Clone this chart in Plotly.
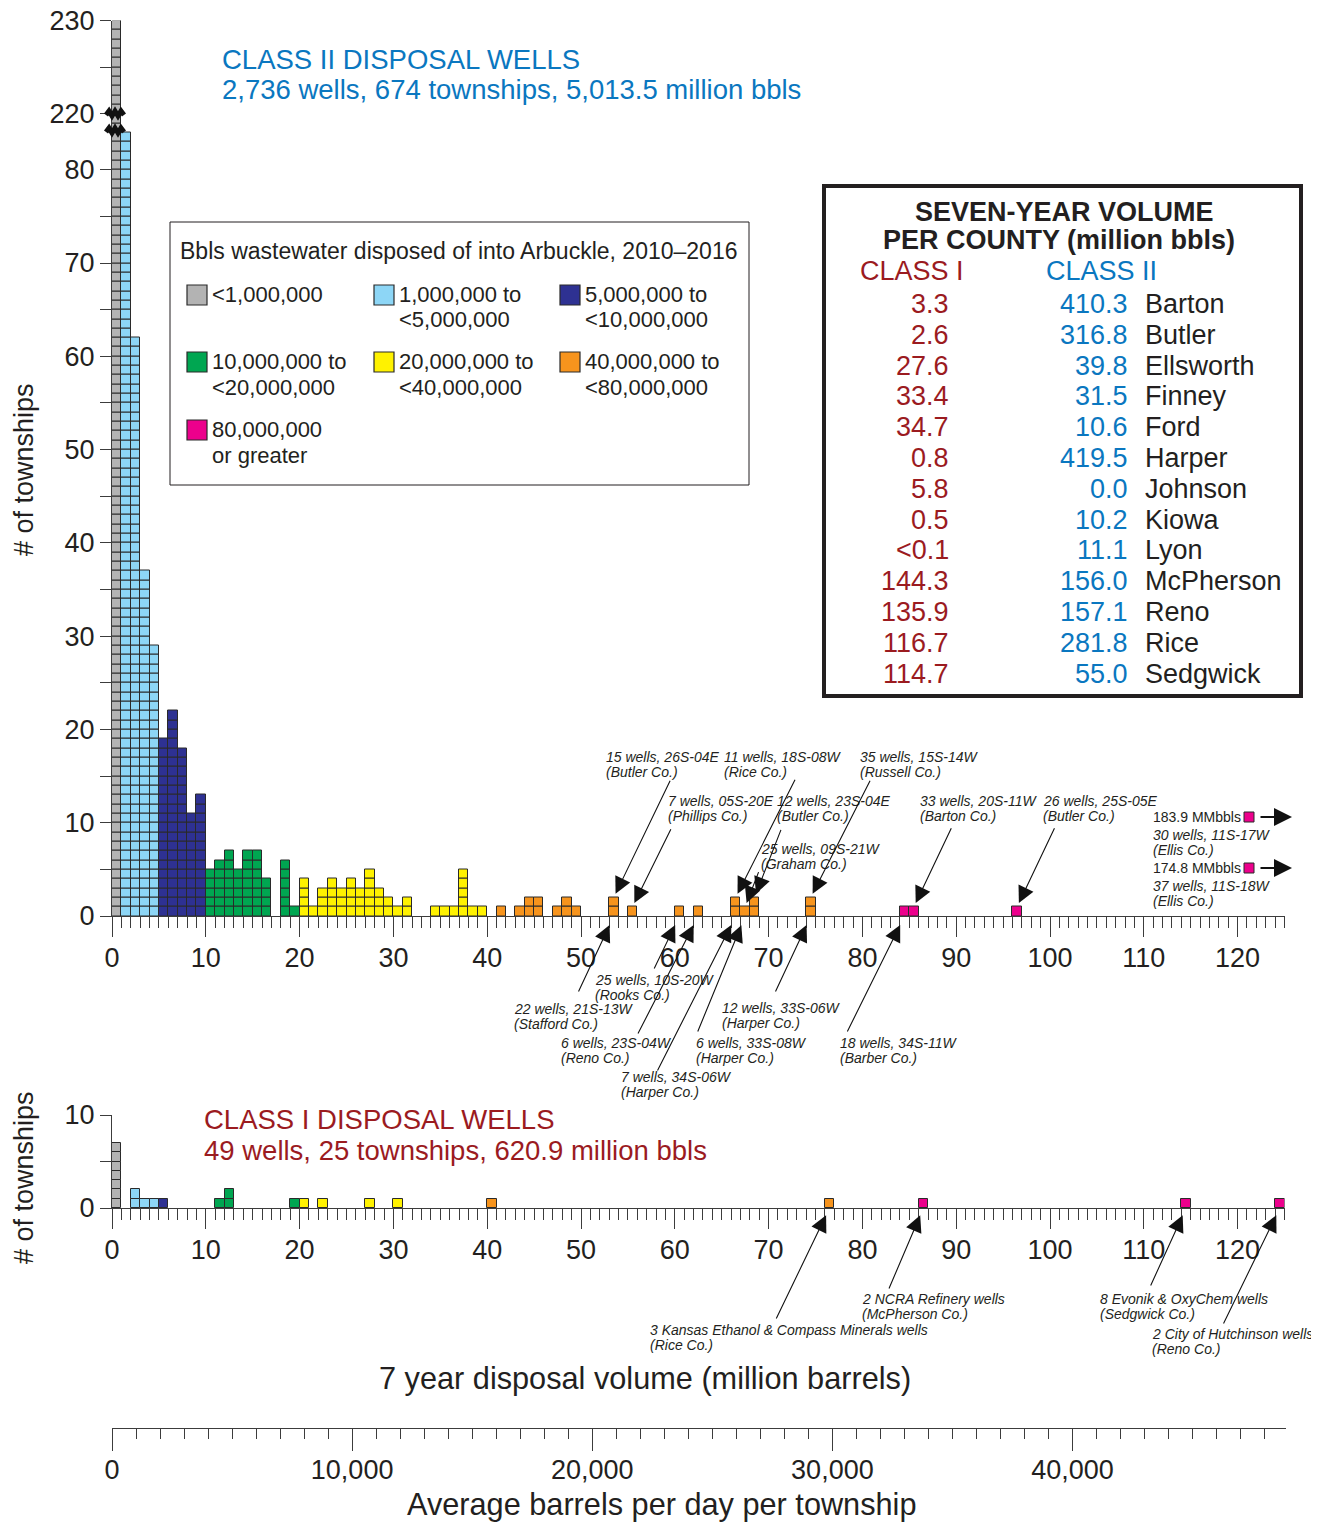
import plotly.graph_objects as go

# page size and page offset (browser default body margin)
PAGE_W, PAGE_H = 1319, 1523
OFF = 8
W, H = PAGE_W - OFF, PAGE_H - OFF

# ---------------- data ----------------
# Class II: township counts per 1-million-bbl bin (bin lower edge, million bbls)
class2_bins = [0, 1, 2, 3, 4, 5, 6, 7, 8, 9, 10, 11, 12, 13, 14, 15, 16, 18, 19,
               20, 21, 22, 23, 24, 25, 26, 27, 28, 29, 30, 31, 34, 35, 36, 37, 38, 39,
               41, 43, 44, 45, 47, 48, 49, 53, 55, 60, 62, 66, 67, 68, 74, 84, 85, 96]
class2_counts = [230, 84, 62, 37, 29, 19, 22, 18, 11, 13, 5, 6, 7, 5, 7, 7, 4, 6, 1,
                 4, 1, 3, 4, 3, 4, 3, 5, 3, 2, 1, 2, 1, 1, 1, 5, 1, 1,
                 1, 1, 2, 2, 1, 2, 1, 2, 1, 1, 1, 2, 1, 2, 2, 1, 1, 1]

# Class I
class1_bins = [0, 2, 3, 4, 5, 11, 12, 19, 20, 22, 27, 30, 40, 76, 86, 114, 124]
class1_counts = [7, 2, 1, 1, 1, 1, 2, 1, 1, 1, 1, 1, 1, 1, 1, 1, 1]

# volume categories (million bbls lower edges)
cat_lower = [0, 1, 5, 10, 20, 40, 80]
cat_colors = ['#b3b3b3', '#8dd6f6', '#2e3192', '#00a651', '#fff200', '#f7941d', '#ec008c']
cat_line1 = ['<1,000,000', '1,000,000 to', '5,000,000 to', '10,000,000 to',
             '20,000,000 to', '40,000,000 to', '80,000,000']
cat_line2 = ['', '<5,000,000', '<10,000,000', '<20,000,000',
             '<40,000,000', '<80,000,000', 'or greater']

# y-axis break (class II): values above the break are shifted down
break_real = 220
break_disp = 86

c2_tickvals_real = [0, 5, 10, 15, 20, 25, 30, 35, 40, 45, 50, 55, 60, 65, 70, 75, 80, 220, 225, 230]
c2_ticktext = ['0', '', '10', '', '20', '', '30', '', '40', '', '50', '', '60', '', '70', '', '80',
               '220', '', '230']
c1_tickvals = [0, 5, 10]
c1_ticktext = ['0', '', '10']

# county table
counties = ["Barton", "Butler", "Ellsworth", "Finney", "Ford", "Harper", "Johnson",
            "Kiowa", "Lyon", "McPherson", "Reno", "Rice", "Sedgwick"]
class1_vol = ["3.3", "2.6", "27.6", "33.4", "34.7", "0.8", "5.8", "0.5", "<0.1",
              "144.3", "135.9", "116.7", "114.7"]
class2_vol = ["410.3", "316.8", "39.8", "31.5", "10.6", "419.5", "0.0", "10.2", "11.1",
              "156.0", "157.1", "281.8", "55.0"]

# off-scale townships
offscale_vals = ["183.9", "174.8"]
offscale_desc = [("30 wells, 11S-17W", "(Ellis Co.)"), ("37 wells, 11S-18W", "(Ellis Co.)")]

# annotated townships: (bin, label1, label2)
c2_above = [(53, "15 wells, 26S-04E", "(Butler Co.)"),
            (55, "7 wells, 05S-20E", "(Phillips Co.)"),
            (66, "11 wells, 18S-08W", "(Rice Co.)"),
            (68, "12 wells, 23S-04E", "(Butler Co.)"),
            (67, "25 wells, 09S-21W", "(Graham Co.)"),
            (74, "35 wells, 15S-14W", "(Russell Co.)"),
            (85, "33 wells, 20S-11W", "(Barton Co.)"),
            (96, "26 wells, 25S-05E", "(Butler Co.)")]
c2_below = [(53, "22 wells, 21S-13W", "(Stafford Co.)"),
            (60, "25 wells, 10S-20W", "(Rooks Co.)"),
            (62, "6 wells, 23S-04W", "(Reno Co.)"),
            (66, "7 wells, 34S-06W", "(Harper Co.)"),
            (67, "6 wells, 33S-08W", "(Harper Co.)"),
            (74, "12 wells, 33S-06W", "(Harper Co.)"),
            (84, "18 wells, 34S-11W", "(Barber Co.)")]
c1_below = [(76, "3 Kansas Ethanol & Compass Minerals wells", "(Rice Co.)"),
            (86, "2 NCRA Refinery wells", "(McPherson Co.)"),
            (114, "8 Evonik & OxyChem wells", "(Sedgwick Co.)"),
            (124, "2 City of Hutchinson wells", "(Reno Co.)")]

# ---------------- layout positions (page pixels) ----------------
# label placement: (x_left, y_line1, tail_dx, tail_dy)
above_pos = [(604, 757, 57, -118), (666, 801, 39, -79), (722, 757, 60, -119),
             (775, 801, 27, -69), (759, 849, 14, -36), (858, 757, 60, -118),
             (918, 801, 38, -80), (1041, 801, 38, -80)]
below_pos = [(512, 1009, -36, 77), (593, 980, -26, 54), (559, 1043, -61, 119),
             (619, 1077, -79, 156), (694, 1043, -48, 117), (720, 1008, -36, 77),
             (838, 1043, -58, 117)]
c1_pos = [(648, 1330, -54, 112), (860, 1299, -35, 82), (1098, 1299, -36, 79),
          (1150, 1334, -57, 117)]

FONT = "Liberation Sans, Arial, Helvetica, sans-serif"
TXT = '#231f20'
AX = '#3c3c3c'
BLUE = '#0a77c0'
RED = '#9b1b1f'
OUTLINE = '#2a2a2a'


def px(x):
    return (x - OFF) / W


def py(y):
    return 1 - (y - OFF) / H


def cat_of(b):
    idx = 0
    for i, lo in enumerate(cat_lower):
        if b >= lo:
            idx = i
    return idx


def disp(v):
    return v - (break_real - break_disp) if v >= break_real - 10 else v


fig = go.Figure()


def add_cells(bins, counts, xa, ya, use_break):
    per = {i: ([], []) for i in range(len(cat_lower))}
    for b, c in zip(bins, counts):
        n = disp(c) if use_break else c
        xs, bs = per[cat_of(b)]
        for k in range(n):
            xs.append(b + 0.5)
            bs.append(k)
    for i, (xs, bs) in per.items():
        if not xs:
            continue
        fig.add_trace(go.Bar(x=xs, y=[1] * len(xs), base=bs, width=1,
                             marker=dict(color=cat_colors[i], line=dict(color=OUTLINE, width=1)),
                             xaxis=xa, yaxis=ya, showlegend=False, hoverinfo='skip'))


add_cells(class2_bins, class2_counts, 'x', 'y', True)
add_cells(class1_bins, class1_counts, 'x2', 'y2', False)

bpd_max = 125e6 / (7 * 365.25)
fig.add_trace(go.Scatter(x=[0, bpd_max], y=[0, 0], mode='markers', marker=dict(opacity=0),
                         xaxis='x3', yaxis='y3', showlegend=False, hoverinfo='skip'))

xdom = [px(112), px(1284.5)]
common_x = dict(range=[0, 125], domain=xdom, showline=True, linecolor=AX, linewidth=1.3,
                ticks='outside', tickmode='linear', tick0=0, dtick=10, ticklen=20, tickwidth=1.2,
                tickcolor=AX, minor=dict(ticks='outside', tick0=0, dtick=1, ticklen=11,
                                         tickwidth=1, tickcolor=AX),
                tickfont=dict(size=27, color=TXT, family=FONT), showgrid=False, zeroline=False,
                automargin=False, ticklabeloverflow='allow', ticklabelstandoff=-3)
common_y = dict(showline=True, linecolor=AX, linewidth=1.3, ticks='outside', ticklen=11,
                tickwidth=1.2, tickcolor=AX, tickfont=dict(size=27, color=TXT, family=FONT),
                showgrid=False, zeroline=False, tickmode='array', automargin=False,
                ticklabeloverflow='allow')

fig.update_layout(
    width=W, height=H, autosize=False, margin=dict(l=0, r=0, t=0, b=0, pad=0),
    paper_bgcolor='white', plot_bgcolor='rgba(0,0,0,0)', barmode='overlay', bargap=0,
    font=dict(family=FONT, color=TXT),
    xaxis=dict(common_x, anchor='y'),
    yaxis=dict(common_y, anchor='x', domain=[py(916), py(20.5)], range=[0, 96],
               tickvals=[disp(v) for v in c2_tickvals_real], ticktext=c2_ticktext),
    xaxis2=dict(common_x, anchor='y2'),
    yaxis2=dict(common_y, anchor='x2', domain=[py(1208), py(1115)], range=[0, 10],
                tickvals=c1_tickvals, ticktext=c1_ticktext),
    xaxis3=dict(range=[0, bpd_max], domain=[px(112), px(1286)], anchor='y3', showline=True,
                linecolor=AX, linewidth=1.3, ticks='outside', tickmode='linear', tick0=0,
                dtick=10000, ticklen=22, tickwidth=1.2, tickcolor=AX, tickformat=',d',
                minor=dict(ticks='outside', tick0=0, dtick=1000, ticklen=10, tickwidth=1,
                           tickcolor=AX),
                tickfont=dict(size=27, color=TXT, family=FONT), showgrid=False, zeroline=False,
                automargin=False, ticklabeloverflow='allow', ticklabelstandoff=-5),
    yaxis3=dict(domain=[py(1428), py(1427)], visible=False, range=[0, 1], anchor='x3',
                automargin=False),
)

ann = []
shapes = []


def text(x, y, s, size, color=TXT, xanchor='left', bold=False, italic=False, angle=0):
    t = s
    if bold:
        t = '<b>' + t + '</b>'
    if italic:
        t = '<i>' + t + '</i>'
    ann.append(dict(x=px(x), y=py(y), xref='paper', yref='paper', text=t, showarrow=False,
                    xanchor=xanchor, yanchor='middle', textangle=angle,
                    font=dict(size=size, color=color, family=FONT)))


# axis titles
text(24, 470, '# of townships', 27, xanchor='center', angle=-90)
text(24, 1178, '# of townships', 27, xanchor='center', angle=-90)
text(645, 1378, '7 year disposal volume (million barrels)', 30.7, xanchor='center')
text(661, 1504, 'Average barrels per day per township', 30.7, xanchor='center')

# headers
text(220, 59, 'CLASS II DISPOSAL WELLS', 27.5, BLUE)
text(220, 89, '2,736 wells, 674 townships, 5,013.5 million bbls', 27.5, BLUE)
text(202, 1119, 'CLASS I DISPOSAL WELLS', 27.5, RED)
text(202, 1150, '49 wells, 25 townships, 620.9 million bbls', 27.5, RED)

# legend box
shapes.append(dict(type='rect', xref='paper', yref='paper', x0=px(170), x1=px(749),
                   y0=py(485), y1=py(222), line=dict(color=TXT, width=1)))
text(178, 251, 'Bbls wastewater disposed of into Arbuckle, 2010\u20132016', 23)
leg_cols = [187, 374, 560]
leg_rows = [285, 352, 420]
for i in range(len(cat_lower)):
    cx = leg_cols[i % 3]
    cy = leg_rows[i // 3]
    shapes.append(dict(type='rect', xref='paper', yref='paper', x0=px(cx), x1=px(cx + 20),
                       y0=py(cy + 20), y1=py(cy), fillcolor=cat_colors[i],
                       line=dict(color=OUTLINE, width=1.2)))
    text(cx + 23, cy + 9, cat_line1[i], 22)
    if cat_line2[i]:
        text(cx + 23, cy + 35, cat_line2[i], 22)

# county table
shapes.append(dict(type='rect', xref='paper', yref='paper', x0=px(824), x1=px(1301),
                   y0=py(696), y1=py(186), line=dict(color=TXT, width=4)))
text(1064, 212, 'SEVEN-YEAR VOLUME', 27, xanchor='center', bold=True)
text(1059, 240, 'PER COUNTY (million bbls)', 27, xanchor='center', bold=True)
text(858, 271, 'CLASS I', 27, RED)
text(1044, 271, 'CLASS II', 27, BLUE)
for i, (c, v1, v2) in enumerate(zip(counties, class1_vol, class2_vol)):
    yy = 304 + i * 30.8
    text(951, yy, v1, 27, RED, xanchor='right')
    text(1130, yy, v2, 27, BLUE, xanchor='right')
    text(1143, yy, c, 27, TXT)

# arrows
ARW = dict(showarrow=True, arrowhead=2, arrowsize=3.0, arrowwidth=1.1, arrowcolor='#111111',
           text='')

for (b, l1, l2), (lx, ly, dx, dy) in zip(c2_above, above_pos):
    cnt = class2_counts[class2_bins.index(b)]
    ann.append(dict(ARW, x=b + 0.5, y=cnt, xref='x', yref='y', ax=dx, ay=dy, standoff=4))
    text(lx, ly, l1, 14, italic=True)
    text(lx, ly + 15, l2, 14, italic=True)

for (b, l1, l2), (lx, ly, dx, dy) in zip(c2_below, below_pos):
    ann.append(dict(ARW, x=b + 0.5, y=0, xref='x', yref='y', ax=dx, ay=dy, standoff=10))
    text(lx, ly, l1, 14, italic=True)
    text(lx, ly + 15, l2, 14, italic=True)

for (b, l1, l2), (lx, ly, dx, dy) in zip(c1_below, c1_pos):
    ann.append(dict(ARW, x=b + 0.5, y=0, xref='x2', yref='y2', ax=dx, ay=dy, standoff=8))
    text(lx, ly, l1, 14, italic=True)
    text(lx, ly + 15, l2, 14, italic=True)

# off-scale townships
for i, (v, (d1, d2)) in enumerate(zip(offscale_vals, offscale_desc)):
    yy = 817 + i * 51
    text(1151, yy, v + ' MMbbls', 14)
    shapes.append(dict(type='rect', xref='paper', yref='paper', x0=px(1244), x1=px(1254),
                       y0=py(yy + 5), y1=py(yy - 5), fillcolor=cat_colors[-1],
                       line=dict(color=OUTLINE, width=1)))
    ann.append(dict(ARW, x=px(1292), y=py(yy), xref='paper', yref='paper', ax=-33, ay=0,
                    arrowwidth=2, arrowsize=1.8))
    text(1151, yy + 18, d1, 14, italic=True)
    text(1151, yy + 33, d2, 14, italic=True)

# axis break marks
for yb in (114, 131):
    pts = [(106, yb + 1), (109, yb - 3), (112, yb + 2), (115, yb - 3), (118, yb + 2),
           (121, yb - 3), (124, yb + 1)]
    path = 'M ' + ' L '.join(f'{px(a):.5f},{py(c):.5f}' for a, c in pts)
    shapes.append(dict(type='path', xref='paper', yref='paper', path=path,
                       line=dict(color='#111111', width=5)))

fig.update_layout(annotations=ann, shapes=shapes)
fig.write_html("out.html")
